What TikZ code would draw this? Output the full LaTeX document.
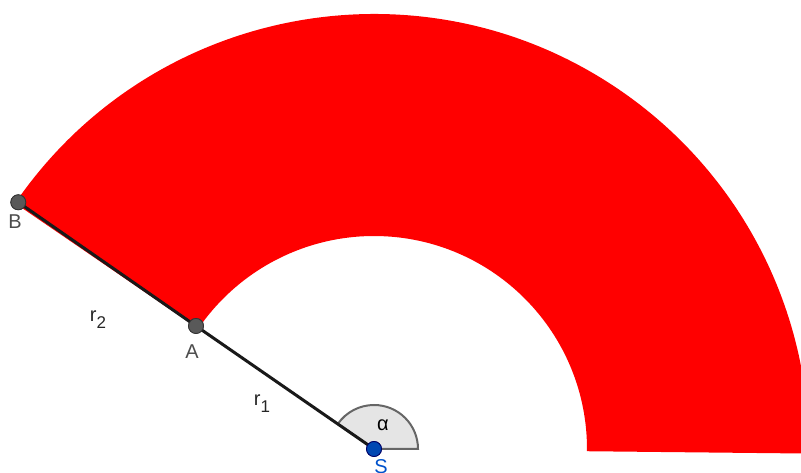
\documentclass[tikz,border=0pt]{standalone}
\usepackage{fontspec}
\setmainfont{Liberation Sans}
\usetikzlibrary{calc}
\newcommand{\mysub}[1]{\raisebox{-7pt}{\fontsize{17}{18}\selectfont #1}}
\begin{document}
\begin{tikzpicture}[x=1pt,y=1pt,
  pt/.style={circle,fill=black!65,draw=black!80,line width=0.8pt,minimum size=15pt,inner sep=0pt},
  spt/.style={circle,fill=blue!60!cyan!70!black,draw=blue!40!black,line width=0.8pt,minimum size=15pt,inner sep=0pt},
  lbl/.style={font=\fontsize{20}{22}\selectfont,text=black!70},
  seg/.style={line width=3pt,draw=black!90,line cap=round}]
\useasboundingbox (0,0) rectangle (801,473);
\clip (0,0) rectangle (801,473);
\coordinate (S) at (374,24);
% red annulus sector
\fill[red] ($(S)+(-0.6:213)$) arc[start angle=-0.6,end angle=145.6,radius=213]
  -- ($(S)+(145.6:435)$) arc[start angle=145.6,end angle=-0.6,radius=435] -- cycle;
% angle mark
\filldraw[fill=black!10,draw=black!60,line width=2pt] (S) -- ++(44,0) arc[start angle=0,end angle=145.36,radius=44] -- cycle;
\node[pt] (A) at (196,147) {};
\node[pt] (B) at (18.3,270.7) {};
\node[spt] (Sp) at (S) {};
\draw[seg] (Sp.center) -- (A.center);
\draw[seg] (A.center) -- (B.center);
\node[pt] at (A) {};
\node[pt] at (B) {};
\node[spt] at (S) {};
\node[lbl] (lB) at (15,251) {B};
\node[lbl] (lA) at (192,121) {A};
\node[lbl,text=blue!60!cyan!80!black] (lS) at (381,6) {S};
\node[lbl,text=black!85] (l2) at (98,153) {r\mysub{2}};
\node[lbl,text=black!85] (l1) at (262,69) {r\mysub{1}};
\node[lbl,text=black] (al) at (383,48) {α};
\end{tikzpicture}
\end{document}
